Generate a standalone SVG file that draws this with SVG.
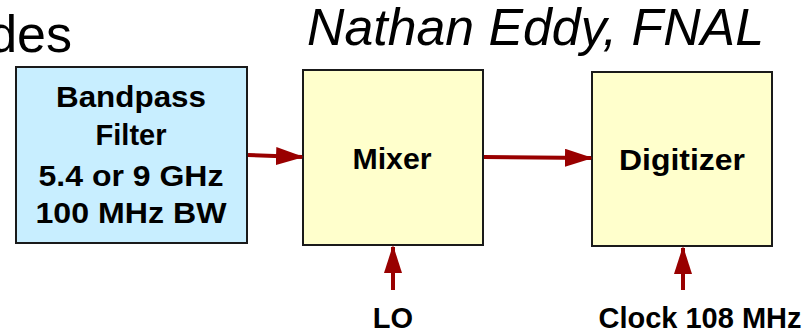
<svg xmlns="http://www.w3.org/2000/svg" width="806" height="335" viewBox="0 0 806 335">
<defs>
<style>
.box{stroke:#1a1a1a;stroke-width:2}
.blue{fill:#C8EEFF}
.yel{fill:#FFFFCC}
.lbl{font-family:"Liberation Sans",Arial,sans-serif;font-weight:bold;font-size:29px;fill:#000;text-anchor:middle}
.ttl{font-family:"Liberation Sans",Arial,sans-serif;font-size:52px;fill:#000}
.wire{stroke:#990000;stroke-width:4;fill:none}
</style>
<marker id="ah" markerWidth="7" markerHeight="4.5" refX="6.5" refY="2.25" orient="auto" markerUnits="strokeWidth">
<path d="M0,0 L7,2.25 L0,4.5 Z" fill="#990000"/>
</marker>
</defs>
<rect width="806" height="335" fill="#fff"/>
<text class="ttl" x="72" y="52" font-size="62" text-anchor="end">des</text>
<text class="ttl" x="307" y="45" font-style="italic" textLength="457" lengthAdjust="spacingAndGlyphs">Nathan Eddy, FNAL</text>
<g id="filter">
<rect class="box blue" x="16" y="67" width="231" height="176"/>
<text class="lbl" x="131" y="107" textLength="150" lengthAdjust="spacingAndGlyphs">Bandpass</text>
<text class="lbl" x="131" y="145">Filter</text>
<text class="lbl" x="131" y="186" textLength="185" lengthAdjust="spacingAndGlyphs">5.4 or 9 GHz</text>
<text class="lbl" x="131" y="223" textLength="191" lengthAdjust="spacingAndGlyphs">100 MHz BW</text>
</g>
<g id="mixer">
<rect class="box yel" x="303" y="70" width="180" height="175"/>
<text class="lbl" x="392" y="169" textLength="79" lengthAdjust="spacingAndGlyphs">Mixer</text>
</g>
<g id="digitizer">
<rect class="box yel" x="592" y="72" width="180" height="174"/>
<text class="lbl" x="682" y="170" textLength="126" lengthAdjust="spacingAndGlyphs">Digitizer</text>
</g>
<g id="connectors">
<line class="wire" x1="248" y1="155" x2="302" y2="157" marker-end="url(#ah)"/>
<line class="wire" x1="484" y1="157" x2="591" y2="158" marker-end="url(#ah)"/>
<line class="wire" x1="393" y1="290" x2="393" y2="247" marker-end="url(#ah)"/>
<line class="wire" x1="683" y1="290" x2="683" y2="248" marker-end="url(#ah)"/>
</g>
<g id="labels">
<text class="lbl" x="393" y="328">LO</text>
<text class="lbl" x="700" y="328" textLength="203" lengthAdjust="spacingAndGlyphs">Clock 108 MHz</text>
</g>
</svg>
